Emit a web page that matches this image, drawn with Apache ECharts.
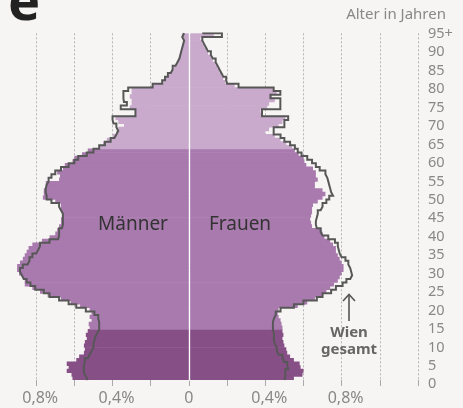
<!DOCTYPE html>
<html>
<head>
<meta charset="utf-8">
<script src="https://cdn.jsdelivr.net/npm/echarts@6/dist/echarts.min.js"></script>
<style>
html, body { margin: 0; padding: 0; background: #f7f5f3; }
#chart { width: 463px; height: 408px; }
</style>
</head>
<body>
<div id="chart"></div>
<script>
// Anteil an der Bevölkerung in %, Index = Alter (0 ... 95+)
var menBars = [0.61,0.615,0.64,0.63,0.64,0.59,0.575,0.55,0.545,0.55,
  0.545,0.535,0.54,0.53,0.52,0.525,0.51,0.52,0.51,0.52,
  0.57,0.62,0.67,0.74,0.78,0.82,0.86,0.86,0.87,0.89,
  0.90,0.90,0.885,0.87,0.86,0.85,0.84,0.82,0.77,0.73,
  0.70,0.69,0.68,0.67,0.67,0.665,0.665,0.67,0.67,0.70,
  0.765,0.76,0.76,0.75,0.75,0.68,0.675,0.69,0.66,0.65,
  0.61,0.60,0.56,0.53,0.47,0.45,0.43,0.40,0.38,0.37,
  0.34,0.37,0.385,0.28,0.28,0.31,0.30,0.30,0.31,0.30,
  0.30,0.19,0.135,0.12,0.105,0.09,0.08,0.065,0.055,0.05,
  0.045,0.04,0.035,0.03,0.028,0.037];
var womenBars = [0.55,0.595,0.60,0.585,0.58,0.55,0.53,0.515,0.51,0.50,
  0.495,0.49,0.495,0.49,0.49,0.485,0.48,0.47,0.465,0.47,
  0.57,0.62,0.66,0.70,0.72,0.74,0.76,0.78,0.79,0.80,
  0.81,0.81,0.80,0.79,0.78,0.77,0.77,0.755,0.74,0.71,
  0.70,0.695,0.645,0.64,0.635,0.64,0.645,0.645,0.65,0.675,
  0.70,0.715,0.70,0.66,0.66,0.675,0.665,0.665,0.65,0.615,
  0.605,0.60,0.575,0.555,0.54,0.51,0.48,0.45,0.40,0.42,
  0.47,0.49,0.505,0.38,0.375,0.41,0.42,0.45,0.435,0.46,
  0.44,0.24,0.19,0.18,0.17,0.16,0.15,0.14,0.125,0.115,
  0.10,0.09,0.08,0.07,0.06,0.13];
// Wien gesamt (Umriss)
var menTotal = [0.53,0.54,0.55,0.55,0.55,0.545,0.53,0.52,0.51,0.50,
  0.50,0.495,0.49,0.48,0.47,0.47,0.47,0.475,0.495,0.54,
  0.59,0.63,0.68,0.73,0.76,0.805,0.83,0.85,0.865,0.875,
  0.885,0.87,0.845,0.835,0.82,0.80,0.79,0.78,0.73,0.685,
  0.68,0.68,0.665,0.66,0.66,0.66,0.66,0.67,0.68,0.72,
  0.745,0.745,0.75,0.75,0.745,0.735,0.72,0.70,0.67,0.63,
  0.60,0.58,0.535,0.50,0.47,0.44,0.41,0.39,0.38,0.37,
  0.38,0.395,0.40,0.28,0.28,0.357,0.325,0.34,0.343,0.343,
  0.318,0.19,0.14,0.125,0.11,0.095,0.085,0.07,0.06,0.05,
  0.045,0.04,0.035,0.03,0.025,0.035];
var womenTotal = [0.50,0.505,0.505,0.52,0.515,0.50,0.49,0.47,0.46,0.46,
  0.45,0.445,0.445,0.445,0.44,0.44,0.44,0.445,0.455,0.48,
  0.55,0.60,0.67,0.70,0.745,0.77,0.805,0.825,0.845,0.855,
  0.85,0.845,0.835,0.82,0.80,0.79,0.785,0.78,0.765,0.73,
  0.70,0.69,0.67,0.665,0.665,0.67,0.675,0.69,0.70,0.72,
  0.735,0.755,0.745,0.74,0.735,0.73,0.725,0.715,0.685,0.665,
  0.645,0.62,0.59,0.57,0.555,0.53,0.50,0.48,0.444,0.444,
  0.50,0.50,0.52,0.383,0.383,0.479,0.479,0.479,0.427,0.479,
  0.444,0.26,0.20,0.195,0.18,0.17,0.16,0.15,0.14,0.125,
  0.115,0.10,0.09,0.08,0.07,0.173];
var xTicks = [0.4, 0.8];
var bandStart = [0, 14, 64];
var bandColors = ['#865087', '#a97aae', '#c9aacd'];

var ages = [];
for (var i = 0; i < menBars.length; i++) ages.push(i === menBars.length - 1 ? i + '+' : '' + i);

function bandColor(i) {
  var c = bandColors[0];
  for (var k = 0; k < bandStart.length; k++) if (i >= bandStart[k]) c = bandColors[k];
  return c;
}
function barData(arr, sign) {
  return arr.map(function (v, i) {
    return { value: sign * v, itemStyle: { color: bandColor(i) } };
  });
}
// Stufenlinie von oben nach unten
function stepLine(arr, sign) {
  var n = arr.length, pts = [[sign * arr[n - 2], n]];
  for (var i = n - 1; i >= 0; i--) {
    pts.push([sign * arr[i], i + 1]);
    pts.push([sign * arr[i], i]);
  }
  return pts;
}

var font = 'Noto Sans';
var myChart = echarts.init(document.getElementById('chart'));
var option = {
  backgroundColor: '#f7f5f3',
  animation: false,
  grid: [
    { left: -2, width: 420, top: 33.3, height: 346.7, outerBoundsMode: 'none' },
    { left: 420, width: 1, top: 33.8, height: 350.5, outerBoundsMode: 'none' }
  ],
  xAxis: [
    {
      gridIndex: 0, type: 'value', min: -1.0, max: 1.2, interval: 0.2,
      axisLine: { show: false, onZero: false },
      axisTick: { show: true, length: 6, lineStyle: { color: '#aaa' } },
      splitLine: { show: true, lineStyle: { color: '#b5b5b5', type: [2, 2], width: 1 } },
      axisLabel: {
        margin: 10, color: '#888', fontSize: 16, fontFamily: font,
        formatter: function (v) {
          var a = Math.round(Math.abs(v) * 10) / 10;
          if (a === 0) return '0';
          if (xTicks.indexOf(a) >= 0) return '{p|' + String(a).replace('.', ',') + '%}';
          return '';
        },
        rich: { p: { color: '#888', fontSize: 16, fontFamily: font, padding: [0, 0, 0, 8] } }
      }
    },
    { gridIndex: 1, type: 'value', show: false }
  ],
  yAxis: [
    {
      gridIndex: 0, type: 'category', data: ages, z: 10,
      axisLine: { show: true, onZero: true, lineStyle: { color: '#ffffff', width: 1.3 } },
      axisTick: { show: false }, axisLabel: { show: false }, splitLine: { show: false }
    },
    { gridIndex: 0, type: 'value', min: 0, max: ages.length, show: false },
    {
      gridIndex: 1, type: 'value', min: 0, max: 95, interval: 5, position: 'right',
      axisLine: { show: false }, axisTick: { show: false }, splitLine: { show: false },
      axisLabel: {
        margin: 7, color: '#888', fontSize: 14.5, fontFamily: font,
        formatter: function (v) { return v === 95 ? '95+' : v; }
      }
    }
  ],
  series: [
    {
      name: 'Männer', type: 'bar', xAxisIndex: 0, yAxisIndex: 0,
      barWidth: 4.3, barGap: '-100%', data: barData(menBars, -1)
    },
    {
      name: 'Frauen', type: 'bar', xAxisIndex: 0, yAxisIndex: 0,
      barWidth: 4.3, barGap: '-100%', data: barData(womenBars, 1)
    },
    {
      name: 'Wien gesamt Männer', type: 'line', xAxisIndex: 0, yAxisIndex: 1,
      symbol: 'none', z: 5, lineStyle: { color: '#575757', width: 2, join: 'miter' },
      data: stepLine(menTotal, -1)
    },
    {
      name: 'Wien gesamt Frauen', type: 'line', xAxisIndex: 0, yAxisIndex: 1,
      symbol: 'none', z: 5, lineStyle: { color: '#575757', width: 2, join: 'miter' },
      data: stepLine(womenTotal, 1)
    }
  ],
  graphic: [
    { type: 'text', x: -15, y: -22, style: { text: 're', fill: '#222', fontSize: 54, fontWeight: 'bold', fontFamily: font, align: 'left', verticalAlign: 'top' } },
    { type: 'text', x: 446, y: 15, style: { text: 'Alter in Jahren', fill: '#888', fontSize: 15, fontFamily: font, align: 'right', verticalAlign: 'middle' } },
    { type: 'text', x: 133, y: 225, z: 20, style: { text: 'Männer', fill: '#333', fontSize: 19, fontFamily: font, align: 'center', verticalAlign: 'middle' } },
    { type: 'text', x: 240, y: 225, z: 20, style: { text: 'Frauen', fill: '#333', fontSize: 19, fontFamily: font, align: 'center', verticalAlign: 'middle' } },
    { type: 'line', z: 20, shape: { x1: 349, y1: 295, x2: 349, y2: 321 }, style: { stroke: '#555', lineWidth: 1.6 } },
    { type: 'polyline', z: 20, shape: { points: [[343, 301], [349, 294.5], [355, 301]] }, style: { stroke: '#555', lineWidth: 1.6, fill: null } },
    { type: 'text', x: 349, y: 341, z: 20, style: { text: 'Wien\ngesamt', fill: '#666', fontSize: 15, fontWeight: 'bold', fontFamily: font, lineHeight: 17, align: 'center', verticalAlign: 'middle' } }
  ]
};
myChart.setOption(option);
</script>
</body>
</html>
